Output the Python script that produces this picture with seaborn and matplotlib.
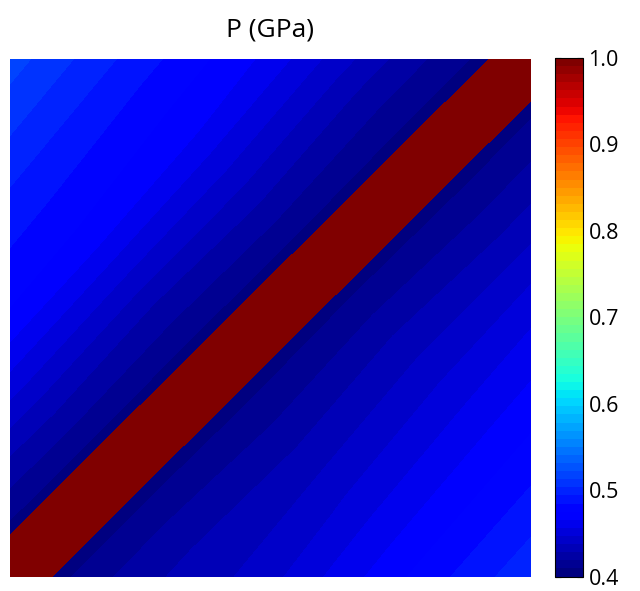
import numpy as np
import matplotlib
matplotlib.use("Agg")
import matplotlib.pyplot as plt
import seaborn as sns

# pressure field read from the picture, sampled in a frame rotated 45 degrees:
# along = x + y (position along the diagonal), offset = y - x (distance across it)
along = [0.0, 0.4, 0.8, 1.2, 1.6, 2.0]
offset = [-1.0, -0.75, -0.5, -0.25, -0.08, 0.08, 0.25, 0.5, 0.75, 1.0]
pressure = [
    [0.492, 0.468, 0.440, 0.424, 0.405, 0.405, 0.430, 0.476, 0.499, 0.518],
    [0.494, 0.470, 0.442, 0.425, 0.405, 0.405, 0.431, 0.474, 0.497, 0.518],
    [0.500, 0.474, 0.448, 0.423, 0.405, 0.405, 0.428, 0.471, 0.493, 0.519],
    [0.502, 0.477, 0.452, 0.426, 0.405, 0.405, 0.429, 0.466, 0.489, 0.515],
    [0.504, 0.480, 0.455, 0.424, 0.405, 0.405, 0.425, 0.461, 0.486, 0.512],
    [0.504, 0.480, 0.456, 0.425, 0.405, 0.405, 0.424, 0.460, 0.485, 0.512],
]
# sheared band along the diagonal
band_half_width = 0.08
band_value = 1.0

cbar_ticks = [0.4, 0.5, 0.6, 0.7, 0.8, 0.9, 1.0]

#%% build the grid (band inserted as two extra columns)
off = np.array(offset)
val = np.array(pressure)
inner = band_half_width * 0.999
i = np.searchsorted(off, 0.0)
off_full = np.concatenate([off[:i], [-inner, inner], off[i:]])
edge_val = val[:, i - 1:i]
blue_full = np.concatenate([val[:, :i], edge_val, edge_val, val[:, i:]], axis=1)
val_full = np.concatenate([val[:, :i], np.full((len(along), 2), band_value), val[:, i:]], axis=1)

S, D = np.meshgrid(np.array(along), off_full, indexing="ij")
X = (S - D) / 2
Y = (S + D) / 2

#%% plot
sns.set_theme(style="white")
plt.rcParams["font.family"] = ["Open Sans", "DejaVu Sans"]
plt.rcParams["text.color"] = "black"
plt.rcParams["ytick.color"] = "black"
plt.rcParams["ytick.labelcolor"] = "black"

fig = plt.figure(figsize=(6.4, 5.91), dpi=100)
ax = fig.add_axes([0.0156, 0.0245, 0.814, 0.8757])
cax = fig.add_axes([0.867, 0.0245, 0.0438, 0.8774])

levels = np.linspace(0.4, 1.0, 65)
cmap = plt.get_cmap("jet", 64)
cf = ax.contourf(X, Y, val_full, levels=levels, cmap=cmap, alpha=0)  # for the colorbar
ax.contourf(X, Y, blue_full, levels=levels, cmap=cmap, antialiased=False)
ax.contourf(X, Y, val_full, levels=[levels[-2], levels[-1]], colors=[cmap(63)],
            antialiased=False)
ax.set_xlim(0, 1)
ax.set_ylim(0, 1)
ax.set_axis_off()
ax.set_title("P (GPa)", fontsize=19, pad=16, color="black")

cb = fig.colorbar(cf, cax=cax, ticks=cbar_ticks)
cb.solids.set_alpha(1)
cb.ax.set_yticklabels([f"{t:.1f}" for t in cbar_ticks])
cb.ax.tick_params(labelsize=15.5, direction="in", length=4, width=0.8,
                  left=True, right=True, pad=4, colors="black")
cb.outline.set_linewidth(0.8)
cb.outline.set_edgecolor("black")

fig.savefig("out.png", dpi=100)
